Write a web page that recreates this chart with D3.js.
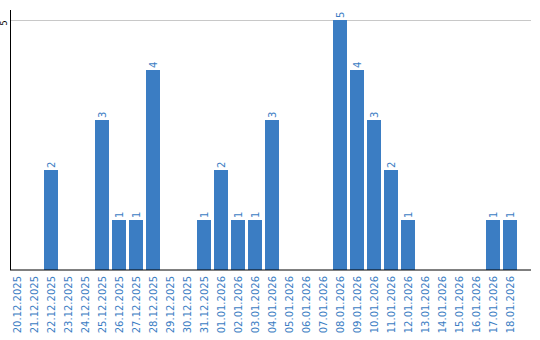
<!DOCTYPE html>
<html>
<head>
<meta charset="utf-8">
<script src="https://cdn.jsdelivr.net/npm/d3@7"></script>
<style>
  body { margin: 0; background: #fff; }
  text { font-family: "DejaVu Sans", sans-serif; }
</style>
</head>
<body>
<div id="chart"></div>
<script>
const dates = ["20.12.2025", "21.12.2025", "22.12.2025", "23.12.2025", "24.12.2025",
    "25.12.2025", "26.12.2025", "27.12.2025", "28.12.2025", "29.12.2025",
    "30.12.2025", "31.12.2025", "01.01.2026", "02.01.2026", "03.01.2026",
    "04.01.2026", "05.01.2026", "06.01.2026", "07.01.2026", "08.01.2026",
    "09.01.2026", "10.01.2026", "11.01.2026", "12.01.2026", "13.01.2026",
    "14.01.2026", "15.01.2026", "16.01.2026", "17.01.2026", "18.01.2026"];
const counts = [0, 0, 2, 0, 0, 3, 1, 1, 4, 0, 0, 1, 2, 1, 1, 3, 0, 0, 0, 5, 4, 3, 2, 1, 0, 0, 0, 0, 1, 1];
const yTicks = [5];

const width = 540,
    height = 340;
const blue = "#3b7dc3";

const svg = d3.select("#chart").append("svg")
    .attr("width", width)
    .attr("height", height);

const x = d3.scaleBand()
    .domain(dates)
    .range([10, 517])
    .paddingInner(3 / 17)
    .paddingOuter(0);

const y = d3.scaleLinear()
    .domain([0, 5.2])
    .range([270, 10]);

const data = dates.map((d, i) => ({date: d, value: counts[i]}));

// gridlines
svg.append("g")
    .selectAll("line")
    .data(yTicks)
    .join("line")
    .attr("x1", 10)
    .attr("x2", 531)
    .attr("y1", d => y(d) + 0.5)
    .attr("y2", d => y(d) + 0.5)
    .attr("stroke", "#c8c8c8")
    .attr("stroke-width", 1);

// y tick labels
svg.append("g")
    .selectAll("text")
    .data(yTicks)
    .join("text")
    .attr("transform", d => `translate(7,${y(d) + 3}) rotate(-90)`)
    .attr("text-anchor", "middle")
    .attr("font-size", 8)
    .attr("fill", "#000")
    .text(d => d);

// bars
svg.append("g")
    .selectAll("rect")
    .data(data.filter(d => d.value > 0))
    .join("rect")
    .attr("x", d => x(d.date))
    .attr("y", d => y(d.value))
    .attr("width", x.bandwidth())
    .attr("height", d => y(0) - y(d.value))
    .attr("fill", blue);

// value labels
svg.append("g")
    .selectAll("text")
    .data(data.filter(d => d.value > 0))
    .join("text")
    .attr("transform", d => `translate(${x(d.date) + x.bandwidth() / 2 + 4},${y(d.value) - 2}) rotate(-90)`)
    .attr("text-anchor", "start")
    .attr("font-size", 10)
    .attr("fill", blue)
    .text(d => d.value);

// axes lines
svg.append("line")
    .attr("x1", 10.5)
    .attr("x2", 10.5)
    .attr("y1", 10)
    .attr("y2", 270)
    .attr("stroke", "#000");

svg.append("line")
    .attr("x1", 10)
    .attr("x2", 531)
    .attr("y1", 270)
    .attr("y2", 270)
    .attr("stroke", "#000")
    .attr("stroke-width", 1);

// category labels
svg.append("g")
    .selectAll("text")
    .data(dates)
    .join("text")
    .attr("transform", d => `translate(${x(d) + x.bandwidth() / 2 + 4},276) rotate(-90)`)
    .attr("text-anchor", "end")
    .attr("font-size", 10)
    .attr("fill", blue)
    .text(d => d);
</script>
</body>
</html>
